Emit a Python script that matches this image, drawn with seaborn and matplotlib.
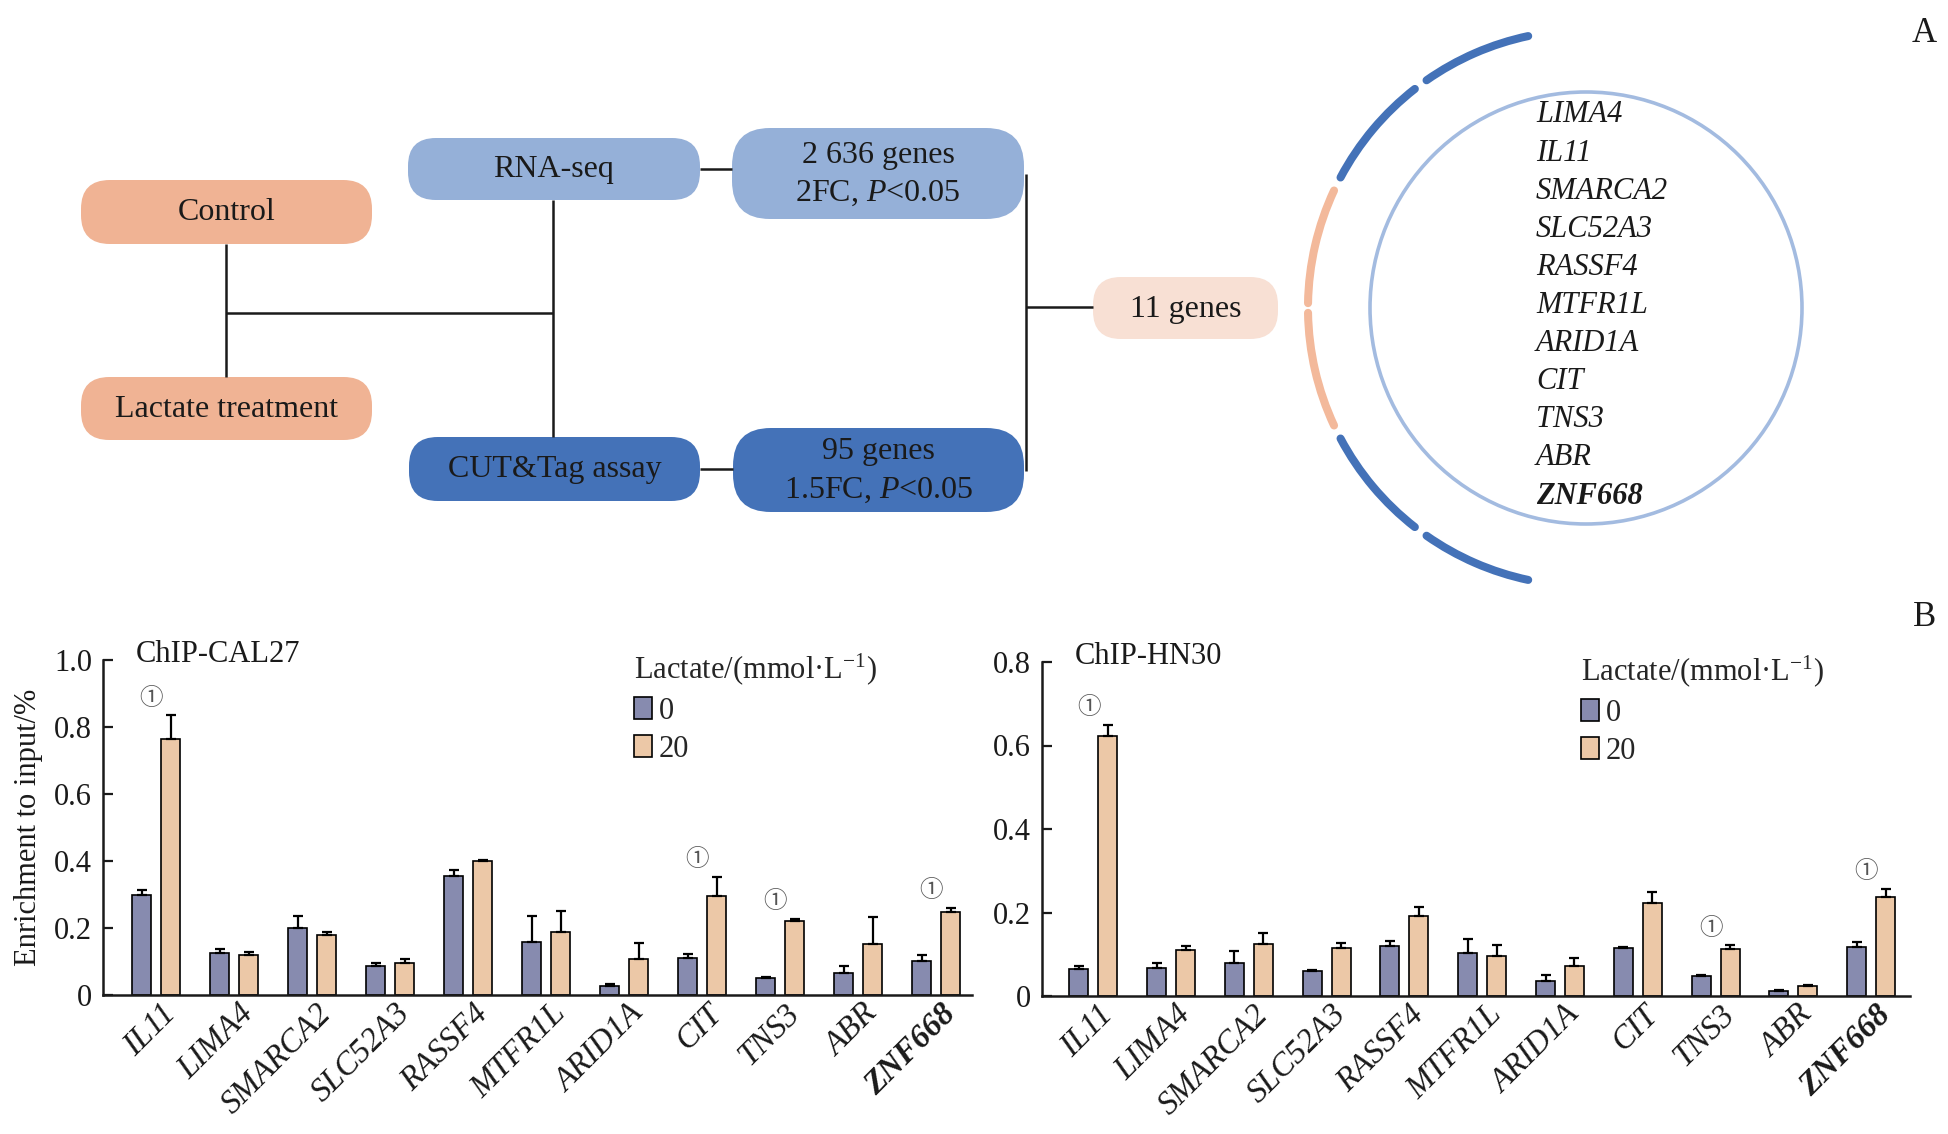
import numpy as np
import pandas as pd
import matplotlib
matplotlib.use("Agg")
import matplotlib.pyplot as plt
import matplotlib.transforms as mtransforms
from matplotlib.patches import FancyBboxPatch, Arc, Circle
import seaborn as sns

# ---- data ----
genes = ["IL11", "LIMA4", "SMARCA2", "SLC52A3", "RASSF4", "MTFR1L",
         "ARID1A", "CIT", "TNS3", "ABR", "ZNF668"]
overlap_genes = ["LIMA4", "IL11", "SMARCA2", "SLC52A3", "RASSF4", "MTFR1L",
                 "ARID1A", "CIT", "TNS3", "ABR", "ZNF668"]
lactate_levels = ["0", "20"]

cal27_0 = [0.299, 0.124, 0.200, 0.087, 0.355, 0.158, 0.027, 0.111, 0.052, 0.066, 0.102]
cal27_0_err = [0.014, 0.012, 0.035, 0.008, 0.019, 0.077, 0.005, 0.011, 0.002, 0.020, 0.018]
cal27_20 = [0.764, 0.119, 0.179, 0.097, 0.399, 0.187, 0.107, 0.297, 0.220, 0.152, 0.247]
cal27_20_err = [0.071, 0.009, 0.008, 0.011, 0.003, 0.063, 0.048, 0.055, 0.008, 0.081, 0.013]
cal27_sig = ["IL11", "CIT", "TNS3", "ZNF668"]

hn30_0 = [0.065, 0.068, 0.080, 0.061, 0.120, 0.102, 0.036, 0.114, 0.048, 0.012, 0.117]
hn30_0_err = [0.008, 0.012, 0.027, 0.002, 0.011, 0.034, 0.014, 0.004, 0.003, 0.003, 0.012]
hn30_20 = [0.623, 0.109, 0.125, 0.115, 0.191, 0.097, 0.071, 0.223, 0.113, 0.024, 0.238]
hn30_20_err = [0.027, 0.010, 0.025, 0.011, 0.021, 0.024, 0.021, 0.027, 0.008, 0.002, 0.019]
hn30_sig = ["IL11", "TNS3", "ZNF668"]

# ---- style ----
sns.set_style("ticks")
plt.rcParams["font.family"] = ["Liberation Serif", "Noto Sans CJK SC", "DejaVu Sans"]
plt.rcParams["mathtext.fontset"] = "custom"
plt.rcParams["mathtext.rm"] = "Liberation Serif"
plt.rcParams["mathtext.it"] = "Liberation Serif:italic"
plt.rcParams["mathtext.bf"] = "Liberation Serif:bold"

FS = 22
BLUE_BAR = "#8086b6"
ORANGE_BAR = "#f7c89c"
SALMON = "#f0b394"
LIGHT_BLUE = "#95b0d8"
DARK_BLUE = "#4472b8"
PEACH = "#f8e0d4"

fig = plt.figure(figsize=(19.49, 11.34), dpi=100)

# ---- panel A: flow diagram in pixel coordinates ----
axA = fig.add_axes([0, 0, 1, 1])
axA.set_xlim(0, 1949)
axA.set_ylim(1134, 0)
axA.axis("off")

boxes = [
    (81, 180, 291, 64, SALMON, ["Control"]),
    (81, 377, 291, 63, SALMON, ["Lactate treatment"]),
    (408, 138, 292, 62, LIGHT_BLUE, ["RNA-seq"]),
    (409, 437, 291, 64, DARK_BLUE, ["CUT&Tag assay"]),
    (732, 128, 292, 91, LIGHT_BLUE, ["2 636 genes", "2FC, $\\it{P}$<0.05"]),
    (733, 428, 291, 84, DARK_BLUE, ["95 genes", "1.5FC, $\\it{P}$<0.05"]),
    (1093, 277, 185, 62, PEACH, ["11 genes"]),
]
for x, y, w, h, col, lines in boxes:
    r = min(h * 0.45, 38)
    axA.add_patch(FancyBboxPatch((x, y), w, h, boxstyle=f"round,pad=0,rounding_size={r}",
                                 fc=col, ec="none"))
    cy = y + h / 2
    if len(lines) == 1:
        axA.text(x + w / 2, cy + 1, lines[0], ha="center", va="center", fontsize=23, color="#1a1a1a")
    else:
        axA.text(x + w / 2, cy - 18, lines[0], ha="center", va="center", fontsize=23, color="#1a1a1a")
        axA.text(x + w / 2, cy + 20, lines[1], ha="center", va="center", fontsize=23, color="#1a1a1a")

lw_link = 1.8
links = [
    ((226, 226), (244, 377)),
    ((226, 553), (313, 313)),
    ((553, 553), (200, 437)),
    ((700, 732), (169, 169)),
    ((700, 733), (469, 469)),
    ((1026, 1026), (174, 471)),
    ((1026, 1093), (307, 307)),
]
for xs, ys in links:
    axA.plot(xs, ys, color="#1a1a1a", lw=lw_link, solid_capstyle="butt")

# venn-like ring with the overlapping genes
cx, cy = 1586, 308
axA.add_patch(Circle((cx, cy), 216, fill=False, ec="#a3bbe0", lw=2.6))
arcs = [(102, 125, DARK_BLUE), (128, 152, DARK_BLUE), (155, 179, "#f3b99b"),
        (181, 205, "#f3b99b"), (208, 232, DARK_BLUE), (235, 258, DARK_BLUE)]
for t1, t2, col in arcs:
    a = Arc((cx, cy), 556, 556, theta1=t1, theta2=t2, color=col, lw=5.8)
    a.set_capstyle("round")
    axA.add_patch(a)
for k, g in enumerate(overlap_genes):
    axA.text(1536, 115 + k * 38.1, g, ha="left", va="center", fontsize=22,
             fontstyle="italic", fontweight="bold" if g == "ZNF668" else "normal",
             color="#1a1a1a")

axA.text(1924, 34, "A", ha="center", va="center", fontsize=25, color="#1a1a1a")
axA.text(1925, 618, "B", ha="center", va="center", fontsize=25, color="#1a1a1a")


# ---- panel B: ChIP-qPCR bars ----
def draw_panel(ax, vals0, err0, vals20, err20, sig, ymax, title, xlim, leg_x):
    df = pd.DataFrame({
        "gene": genes * 2,
        "lactate": ["0"] * len(genes) + ["20"] * len(genes),
        "value": vals0 + vals20,
    })
    sns.barplot(data=df, x="gene", y="value", hue="lactate", order=genes,
                hue_order=lactate_levels, palette=[BLUE_BAR, ORANGE_BAR],
                width=0.744, gap=0.344, edgecolor="black", linewidth=1.2,
                errorbar=None, ax=ax)
    for cont, errs in zip(ax.containers, [err0, err20]):
        xs = [b.get_x() + b.get_width() / 2 for b in cont]
        tops = [b.get_height() for b in cont]
        ax.errorbar(xs, tops, yerr=[np.zeros(len(errs)), errs], fmt="none",
                    ecolor="black", elinewidth=1.6, capsize=3.5, capthick=1.6)

    for g in sig:
        i = genes.index(g)
        ax.annotate("\u2460", (i - 0.06, vals20[i] + err20[i]), xytext=(0, 12),
                    textcoords="offset points", ha="center", va="center",
                    fontsize=17, color="#555555")

    ax.set_xlim(*xlim)
    ax.set_ylim(0, ymax)
    ticks = np.round(np.arange(0, ymax + 0.001, 0.2), 1)
    ax.set_yticks(ticks)
    ax.set_yticklabels(["0"] + [f"{t:.1f}" for t in ticks[1:]], fontsize=FS)
    ax.set_xticks(range(len(genes)))
    ax.tick_params(axis="x", length=0, labelbottom=False)

    # slanted gene names, shifted a little right of each group centre
    shift = mtransforms.ScaledTranslation(0.15, -0.14, fig.dpi_scale_trans)
    for i, g in enumerate(genes):
        ax.text(i, 0, g, transform=ax.get_xaxis_transform() + shift,
                rotation=45, ha="right", va="center", rotation_mode="anchor",
                fontstyle="italic", fontweight="bold" if g == "ZNF668" else "normal",
                fontsize=23.5, color="#1a1a1a", clip_on=False)

    ax.tick_params(axis="y", direction="in", length=7, width=1.6, pad=8, colors="#1a1a1a")
    ax.set_xlabel("")
    ax.set_ylabel("")
    sns.despine(ax=ax)
    for s in ["left", "bottom"]:
        ax.spines[s].set_linewidth(1.8)
        ax.spines[s].set_color("#1a1a1a")

    ax.text(0.038, 1.015, title, transform=ax.transAxes, ha="left", va="center",
            fontsize=FS, color="#1a1a1a")
    sns.move_legend(ax, "upper left", bbox_to_anchor=(leg_x, 1.025),
                    title="Lactate/(mmol\u00b7L$^{-1}$)", frameon=False,
                    fontsize=FS, title_fontsize=FS, alignment="left",
                    handlelength=0.6, handleheight=0.75, handletextpad=0.2,
                    labelspacing=0.3, borderpad=0, borderaxespad=0)


ax1 = fig.add_axes([103 / 1949, 1 - 995 / 1134, 869 / 1949, 335 / 1134])
draw_panel(ax1, cal27_0, cal27_0_err, cal27_20, cal27_20_err, cal27_sig,
           1.0, "ChIP-CAL27", (-0.68, 10.46), 0.611)
ax1.set_ylabel("Enrichment to input/%", fontsize=FS, color="#1a1a1a", labelpad=8)

ax2 = fig.add_axes([1042 / 1949, 1 - 996 / 1134, 868 / 1949, 334 / 1134])
draw_panel(ax2, hn30_0, hn30_0_err, hn30_20, hn30_20_err, hn30_sig,
           0.8, "ChIP-HN30", (-0.66, 10.5), 0.621)

fig.savefig("out.png", dpi=100)
